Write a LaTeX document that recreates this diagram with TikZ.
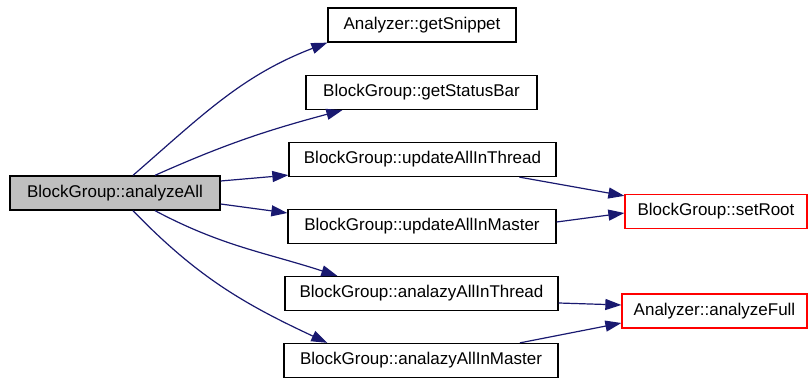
\documentclass[tikz,border=0pt]{standalone}
\usepackage{fontspec}
\setmainfont{Liberation Sans}
\usetikzlibrary{arrows.meta}
\definecolor{edgeblue}{HTML}{191970}
\begin{document}
\begin{tikzpicture}[x=1pt, y=1pt]
\tikzstyle{every node}=[font=\fontsize{17}{20}\selectfont]
\tikzstyle{func}=[draw=black, line width=1.3pt, rectangle, minimum height=34pt, inner sep=0pt]
\tikzstyle{called}=[func, draw=red]
\tikzstyle{call}=[draw=edgeblue, line width=1.2pt, -{Triangle[length=16pt, width=11pt]}]
\useasboundingbox (0, 0) rectangle (809, -379);

% 调用者
\node [func, fill=gray!50, minimum width=210pt] (analyzeAll) at (115, -193) {BlockGroup::analyzeAll};

% 被调用的函数
\node [func, minimum width=188pt] (getSnippet) at (422, -25) {Analyzer::getSnippet};
\node [func, minimum width=231pt] (getStatusBar) at (421.5, -92.5) {BlockGroup::getStatusBar};
\node [func, minimum width=267pt] (updThread) at (422.5, -159.5) {BlockGroup::updateAllInThread};
\node [func, minimum width=268pt] (updMaster) at (422, -226.5) {BlockGroup::updateAllInMaster};
\node [func, minimum width=273pt] (anaThread) at (421.5, -293.5) {BlockGroup::analazyAllInThread};
\node [func, minimum width=274pt] (anaMaster) at (421, -360.5) {BlockGroup::analazyAllInMaster};

\node [called, minimum width=182pt] (setRoot) at (716, -211.5) {BlockGroup::setRoot};
\node [called, minimum width=185pt] (analyzeFull) at (714.5, -311) {Analyzer::analyzeFull};

% 第一层调用
\draw [call] ([xshift=18pt]analyzeAll.north) to [out=41, in=201] (getSnippet.south west);
\draw [call] ([xshift=40pt]analyzeAll.north) to [out=24, in=195] ([xshift=37pt]getStatusBar.south west);
\draw [call] ([yshift=12pt]analyzeAll.east) -- ([yshift=2pt]updThread.south west);
\draw [call] ([yshift=-11pt]analyzeAll.east) -- ([yshift=13.5pt]updMaster.west);
\draw [call] ([xshift=40pt]analyzeAll.south) to [out=-28, in=162] ([xshift=53pt]anaThread.north west);
\draw [call] ([xshift=18pt]analyzeAll.south) to [out=-46, in=155] ([xshift=44pt]anaMaster.north west);

% 第二层调用
\draw [call] ([xshift=97pt]updThread.south) -- ([yshift=-2pt]setRoot.north west);
\draw [call] ([yshift=4.5pt]updMaster.east) -- ([yshift=-1.5pt]setRoot.west);
\draw [call] ([yshift=-9.5pt]anaThread.east) -- ([yshift=6pt]analyzeFull.west);
\draw [call] ([xshift=99pt]anaMaster.north) -- ([yshift=-12pt]analyzeFull.west);

\end{tikzpicture}
\end{document}
